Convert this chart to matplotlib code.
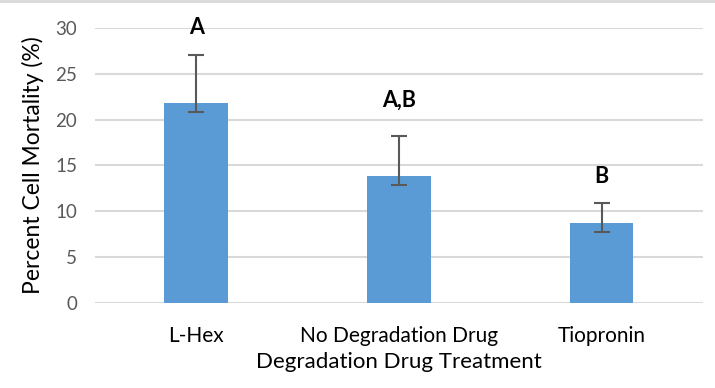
import matplotlib.pyplot as plt
from matplotlib.lines import Line2D

treatments = ['L-Hex', 'No Degradation Drug', 'Tiopronin']
mortality = [21.8, 13.85, 8.75]
err_low = [0.95, 0.95, 1.0]
err_high = [5.25, 4.35, 2.15]
letters = ['A', 'A,B', 'B']
letter_y = [30.0, 22.1, 13.8]

plt.rcParams['font.family'] = ['Lato', 'DejaVu Sans']

fig = plt.figure(figsize=(7.15, 3.88), dpi=100)
ax = fig.add_axes([0.133, 0.22, 0.85, 0.708])

x = range(len(treatments))
ax.bar(x, mortality, width=0.315, color='#5b9bd5', zorder=2)
ax.errorbar(x, mortality, yerr=[err_low, err_high], fmt='none',
            ecolor='#595959', elinewidth=1.5, capsize=6, capthick=1.5, zorder=3)

for i, lab in enumerate(letters):
    ax.text(i, letter_y[i], lab, ha='center', va='center',
            fontsize=15.5, fontweight='bold', color='black')

ax.set_xlim(-0.5, 2.5)
ax.set_ylim(0, 30)
ax.set_yticks([0, 5, 10, 15, 20, 25, 30])
ax.set_xticks(list(x))
ax.set_xticklabels(treatments, fontsize=15)
ax.tick_params(axis='y', length=0, labelsize=13.5, labelcolor='#595959', pad=13)
ax.tick_params(axis='x', length=0, pad=17)
ax.yaxis.grid(True, color='#d9d9d9', linewidth=1.5, zorder=0)
ax.set_axisbelow(True)
for s in ax.spines.values():
    s.set_visible(False)

ax.set_ylabel('Percent Cell Mortality (%)', fontsize=16.5, labelpad=8)
ax.set_xlabel('Degradation Drug Treatment', fontsize=16, labelpad=4)

fig.add_artist(Line2D([0, 1], [0.998, 0.998], transform=fig.transFigure,
                      color='#d9d9d9', linewidth=2))

fig.savefig('out.png', dpi=100)
